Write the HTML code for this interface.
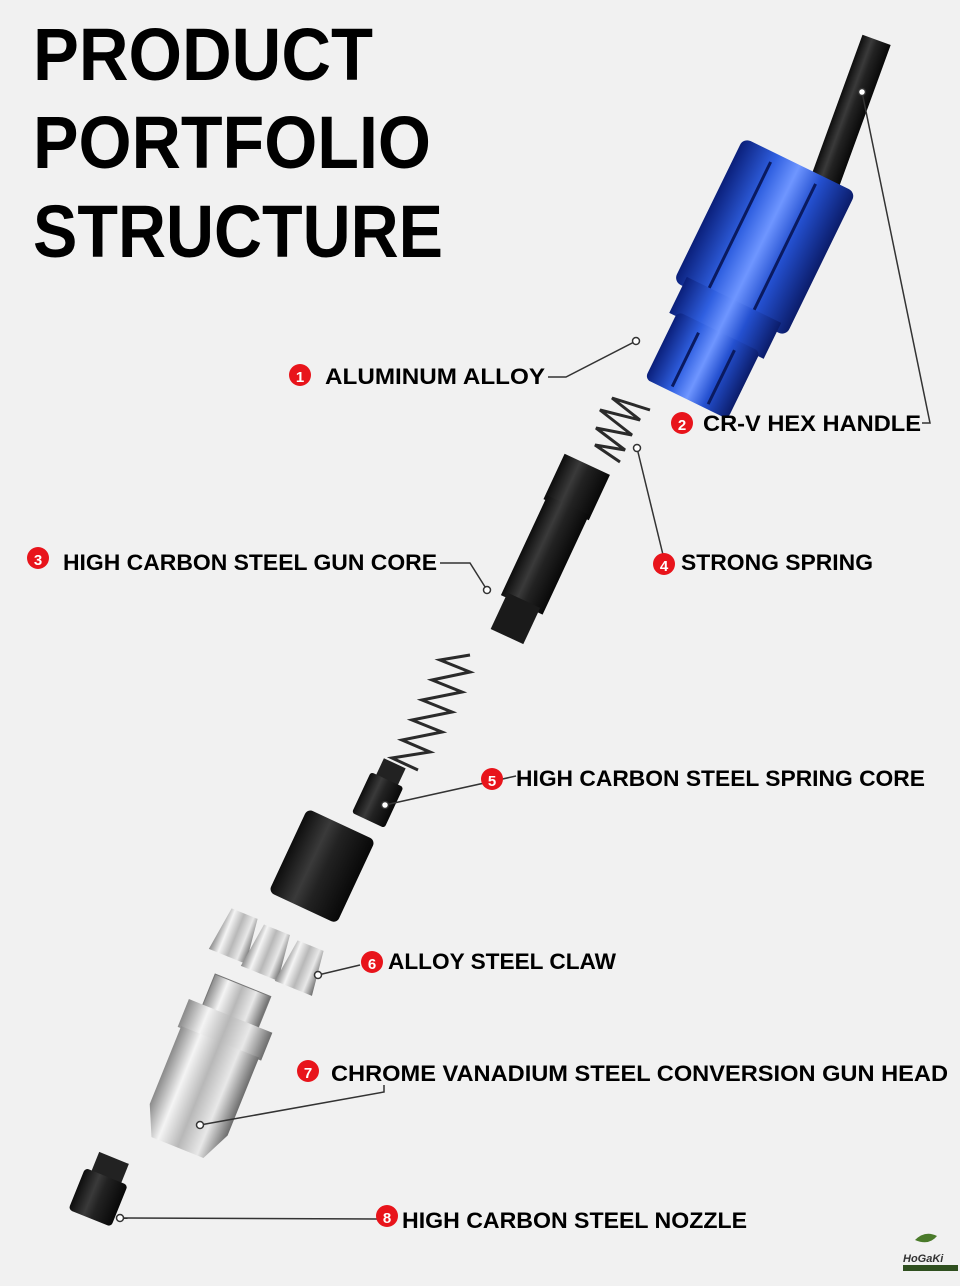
<!DOCTYPE html>
<html><head><meta charset="utf-8"><style>
html,body{margin:0;padding:0;background:#f1f1f1;}
svg{display:block}
text{font-family:"Liberation Sans",Arial,sans-serif;font-weight:bold;}
</style></head><body>
<svg width="960" height="1286" viewBox="0 0 960 1286" xmlns="http://www.w3.org/2000/svg">
<defs>
<linearGradient id="blue" x1="0" x2="1" y1="0" y2="0">
<stop offset="0" stop-color="#0a1f7a"/><stop offset="0.3" stop-color="#2f5fe0"/><stop offset="0.5" stop-color="#6f96ff"/><stop offset="0.7" stop-color="#2450d0"/><stop offset="1" stop-color="#0b1c6a"/></linearGradient>
<linearGradient id="blk" x1="0" x2="1" y1="0" y2="0">
<stop offset="0" stop-color="#0d0d0d"/><stop offset="0.35" stop-color="#3a3a3a"/><stop offset="0.55" stop-color="#222"/><stop offset="1" stop-color="#080808"/></linearGradient>
<linearGradient id="sil" x1="0" x2="1" y1="0" y2="0">
<stop offset="0" stop-color="#8a8a8a"/><stop offset="0.25" stop-color="#f4f4f4"/><stop offset="0.5" stop-color="#b8b8b8"/><stop offset="0.75" stop-color="#e8e8e8"/><stop offset="1" stop-color="#6c6c6c"/></linearGradient>
</defs>
<rect width="960" height="1286" fill="#f1f1f1"/>
<text x="33" y="80" font-size="74" textLength="340" lengthAdjust="spacingAndGlyphs">PRODUCT</text>
<text x="33" y="168" font-size="74" textLength="398" lengthAdjust="spacingAndGlyphs">PORTFOLIO</text>
<text x="33" y="257" font-size="74" textLength="410" lengthAdjust="spacingAndGlyphs">STRUCTURE</text>

<g transform="rotate(20 850 110)"><rect x="836" y="35" width="30" height="150" fill="url(#blk)"/></g>
<g transform="rotate(26 740 275)">
<rect x="683" y="150" width="125" height="160" rx="8" fill="url(#blue)"/>
<rect x="693" y="300" width="105" height="40" fill="url(#blue)"/>
<rect x="700" y="335" width="92" height="75" rx="6" fill="url(#blue)"/>
<line x1="718" y1="160" x2="718" y2="300" stroke="#0a1a60" stroke-width="3"/>
<line x1="768" y1="160" x2="768" y2="300" stroke="#0a1a60" stroke-width="3"/>
<line x1="728" y1="345" x2="728" y2="405" stroke="#0a1a60" stroke-width="3"/>
<line x1="768" y1="345" x2="768" y2="405" stroke="#0a1a60" stroke-width="3"/>
</g>
<path d="M650,410 L612,398 L640,420 L600,410 L632,435 L596,428 L625,450 L595,445 L620,462" fill="none" stroke="#2a2a2a" stroke-width="3"/>
<g transform="rotate(25 545 555)">
<rect x="520" y="455" width="50" height="50" fill="url(#blk)"/>
<rect x="522" y="500" width="46" height="110" fill="url(#blk)"/>
<rect x="527" y="605" width="36" height="40" fill="#1a1a1a"/>
</g>
<path d="M470,655 L440,660 L470,672 L432,680 L462,692 L422,700 L452,712 L412,720 L442,732 L402,740 L430,752 L392,758 L418,770" fill="none" stroke="#2a2a2a" stroke-width="3"/>
<g transform="rotate(25 380 795)"><rect x="368" y="760" width="24" height="22" fill="#222"/><rect x="362" y="778" width="36" height="45" rx="3" fill="url(#blk)"/></g>
<g transform="rotate(25 322 865)"><rect x="285" y="820" width="75" height="92" rx="6" fill="url(#blk)"/></g>
<g transform="rotate(22 236 935)"><path d="M222,912 L250,912 L256,958 L216,958 Z" fill="url(#sil)"/></g>
<g transform="rotate(22 268 952)"><path d="M254,928 L282,928 L288,975 L248,975 Z" fill="url(#sil)"/></g>
<g transform="rotate(22 302 967)"><path d="M288,944 L316,944 L322,990 L282,990 Z" fill="url(#sil)"/></g>
<g transform="rotate(22 200 1065)">
<rect x="180" y="975" width="60" height="35" fill="url(#sil)" stroke="#777" stroke-width="1"/>
<rect x="165" y="1008" width="90" height="30" fill="url(#sil)"/>
<path d="M168,1036 L252,1036 L252,1120 L238,1150 L182,1150 L168,1120 Z" fill="url(#sil)"/>
</g>
<g transform="rotate(22 100 1190)"><rect x="85" y="1155" width="32" height="22" fill="#222"/><rect x="78" y="1175" width="46" height="45" rx="4" fill="url(#blk)"/></g>

<g fill="none" stroke="#333" stroke-width="1.5">
<polyline points="548,377 566,377 636,341"/>
<polyline points="922,423 930,423 862,92"/>
<polyline points="637,448 665,563"/>
<polyline points="440,563 470,563 487,590"/>
<polyline points="516,776 385,805"/>
<polyline points="360,965 318,975"/>
<polyline points="384,1085 384,1092 200,1125"/>
<polyline points="377,1219 120,1218"/>
</g>
<g fill="#fff" stroke="#333" stroke-width="1.5">
<circle cx="636" cy="341" r="3.5"/><circle cx="862" cy="92" r="3.5"/><circle cx="637" cy="448" r="3.5"/>
<circle cx="487" cy="590" r="3.5"/><circle cx="385" cy="805" r="3.5"/><circle cx="318" cy="975" r="3.5"/>
<circle cx="200" cy="1125" r="3.5"/><circle cx="120" cy="1218" r="3.5"/>
</g>

<g font-size="22">
<circle cx="300" cy="375" r="11" fill="#e8141b"/><text x="300" y="382" fill="#fff" font-size="15" text-anchor="middle">1</text>
<text x="325" y="384" textLength="220" lengthAdjust="spacingAndGlyphs">ALUMINUM ALLOY</text>
<circle cx="682" cy="423" r="11" fill="#e8141b"/><text x="682" y="430" fill="#fff" font-size="15" text-anchor="middle">2</text>
<text x="703" y="431" textLength="218" lengthAdjust="spacingAndGlyphs">CR-V HEX HANDLE</text>
<circle cx="38" cy="558" r="11" fill="#e8141b"/><text x="38" y="565" fill="#fff" font-size="15" text-anchor="middle">3</text>
<text x="63" y="570" textLength="374" lengthAdjust="spacingAndGlyphs">HIGH CARBON STEEL GUN CORE</text>
<circle cx="664" cy="564" r="11" fill="#e8141b"/><text x="664" y="571" fill="#fff" font-size="15" text-anchor="middle">4</text>
<text x="681" y="570" textLength="192" lengthAdjust="spacingAndGlyphs">STRONG SPRING</text>
<circle cx="492" cy="779" r="11" fill="#e8141b"/><text x="492" y="786" fill="#fff" font-size="15" text-anchor="middle">5</text>
<text x="516" y="786" textLength="409" lengthAdjust="spacingAndGlyphs">HIGH CARBON STEEL SPRING CORE</text>
<circle cx="372" cy="962" r="11" fill="#e8141b"/><text x="372" y="969" fill="#fff" font-size="15" text-anchor="middle">6</text>
<text x="388" y="969" textLength="228" lengthAdjust="spacingAndGlyphs">ALLOY STEEL CLAW</text>
<circle cx="308" cy="1071" r="11" fill="#e8141b"/><text x="308" y="1078" fill="#fff" font-size="15" text-anchor="middle">7</text>
<text x="331" y="1081" textLength="617" lengthAdjust="spacingAndGlyphs">CHROME VANADIUM STEEL CONVERSION GUN HEAD</text>
<circle cx="387" cy="1216" r="11" fill="#e8141b"/><text x="387" y="1223" fill="#fff" font-size="15" text-anchor="middle">8</text>
<text x="402" y="1228" textLength="345" lengthAdjust="spacingAndGlyphs">HIGH CARBON STEEL NOZZLE</text>
</g>
<path d="M915,1240 q10,-10 22,-4 q-8,10 -22,4z" fill="#4a7a2a"/>
<text x="903" y="1262" font-size="11" font-style="italic" fill="#333">HoGaKi</text>
<rect x="903" y="1265" width="55" height="6" fill="#2f4f1f"/>
</svg>
</body></html>
